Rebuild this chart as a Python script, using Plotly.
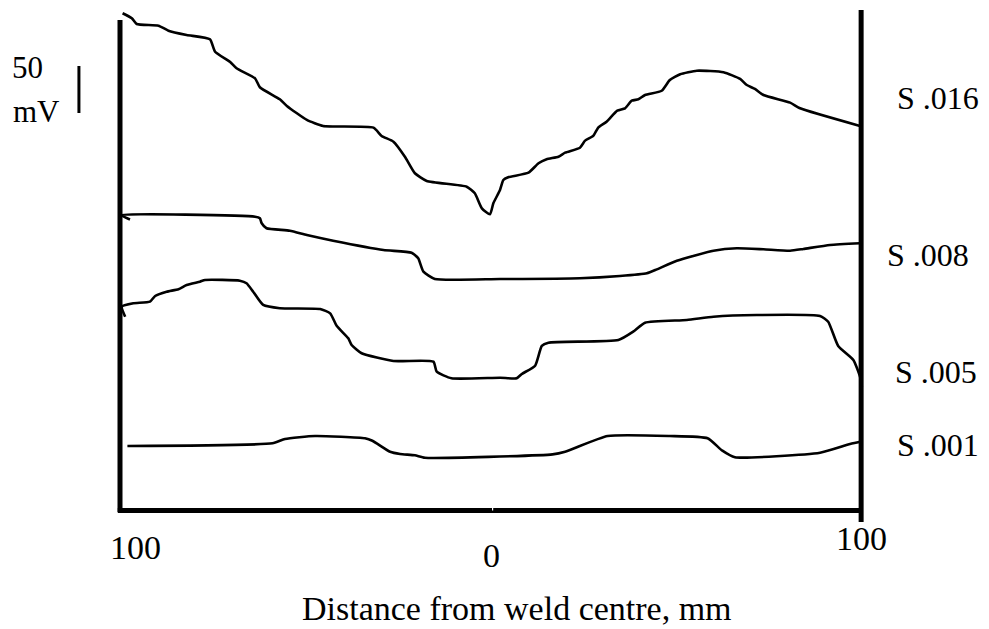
import plotly.graph_objects as go

# Distance from weld centre (mm) and signal level (mV, offset traces)
s016_x = [-99.3, -96.8, -95.5, -89.6, -86.9, -82.0, -75.7, -74.3, -70.3, -68.5, -63.5, -62.2,
          -56.8, -54.9, -49.5, -45.1, -31.5, -29.3, -26.1, -23.0, -20.3, -17.1, -6.3, -4.1,
          -2.2, 0.0, 0.9, 2.7, 3.6, 4.9, 10.4, 13.1, 15.3, 18.5, 20.3, 24.3, 25.7, 27.9, 29.3,
          31.5, 34.4, 36.5, 38.3, 40.1, 41.9, 46.4, 48.6, 51.4, 55.9, 63.1, 67.6, 69.4, 71.6,
          73.9, 81.1, 83.8, 100.0]
s016_y = [531.6, 526.3, 520.2, 518.4, 513.1, 508.5, 503.9, 490.7, 480.1, 473.1, 462.4, 452.9,
          440.1, 433.0, 418.1, 411.7, 409.9, 401.1, 395.0, 379.0, 361.4, 353.2, 347.1, 340.1,
          324.1, 317.8, 329.5, 343.6, 354.2, 357.1, 362.0, 372.0, 376.3, 379.0, 383.3, 388.6,
          396.1, 401.1, 410.3, 416.3, 428.0, 430.5, 438.6, 440.1, 444.7, 449.2, 460.6, 466.7,
          470.5, 468.8, 461.7, 455.3, 451.1, 444.7, 436.5, 430.5, 411.7]

s008_x = [-97.3, -99.8, -63.5, -62.2, -61.7, -60.4, -54.1, -49.5, -42.4, -28.8, -21.2, -19.4,
          -18.0, -14.9, 2.7, 24.3, 35.1, 42.4, 45.1, 50.5, 60.4, 66.7, 73.9, 81.1, 84.7, 91.9,
          100.0]
s008_y = [312.2, 317.0, 315.2, 313.5, 308.2, 302.9, 300.3, 295.7, 289.7, 279.8, 276.9, 270.9,
          256.7, 248.9, 248.9, 249.7, 252.1, 255.0, 259.2, 268.4, 279.0, 281.6, 280.5, 279.0,
          280.9, 285.1, 286.9]

s005_x = [-98.6, -99.5, -96.4, -91.9, -90.5, -87.4, -84.2, -82.0, -78.4, -77.0, -67.6, -65.8,
          -64.0, -61.3, -56.8, -45.9, -43.2, -41.4, -38.3, -37.4, -34.7, -26.1, -15.3, -14.4,
          -10.4, 2.7, 7.2, 8.6, 12.2, 14.0, 15.8, 34.7, 38.7, 41.9, 53.2, 60.4, 72.1, 89.2,
          91.4, 94.1, 98.2, 100.0, 100.5]
s005_y = [208.8, 219.5, 223.1, 224.8, 230.8, 235.4, 238.0, 242.5, 246.1, 247.9, 247.1, 244.4,
          235.4, 221.3, 217.8, 217.0, 212.4, 198.9, 185.8, 178.7, 169.9, 161.7, 161.0, 150.3,
          143.3, 143.9, 143.3, 147.9, 156.7, 177.7, 181.2, 184.0, 192.9, 202.4, 205.3, 208.8,
          210.6, 209.6, 203.5, 177.7, 162.8, 145.0, 134.4]

s001_x = [-98.0, -58.8, -55.4, -47.3, -33.8, -31.8, -27.0, -24.3, -20.3, -17.6, 16.9, 20.3,
          31.8, 48.6, 58.8, 62.8, 66.2, 89.2, 97.3, 100.7]
s001_y = [71.3, 74.1, 78.7, 81.9, 79.5, 76.9, 65.2, 62.8, 61.4, 58.8, 62.4, 65.2, 81.9, 81.9,
          79.5, 66.3, 59.3, 64.1, 73.4, 76.3]

series_names = ["S .016", "S .008", "S .005", "S .001"]
label_pos = [(109.5, 441.5), (106.8, 274.5), (108.9, 150.0), (109.5, 72.3)]

tick_labels = ["100", "0", "100"]
tick_pos = [(-95.7, -36.2), (0.5, -45.7), (100.5, -26.6)]

x_title = "Distance from weld centre, mm"
scale_mv = 50

FONT = "Liberation Serif, Times New Roman, serif"

fig = go.Figure()
for xs, ys in [(s016_x, s016_y), (s008_x, s008_y), (s005_x, s005_y), (s001_x, s001_y)]:
    fig.add_trace(go.Scatter(x=xs, y=ys, mode="lines",
                             line=dict(color="black", width=2.6, shape="spline", smoothing=0.5),
                             hoverinfo="skip", showlegend=False))

shapes = [
    # left axis
    dict(type="line", x0=-100, x1=-100, y0=1, y1=524.5, line=dict(color="black", width=5)),
    # bottom axis
    dict(type="line", x0=-100.6, x1=100.6, y0=2.7, y1=2.7, line=dict(color="black", width=5)),
    # right axis
    dict(type="line", x0=100.3, x1=100.3, y0=-9.6, y1=535, line=dict(color="black", width=5)),
    # zero tick notch
    dict(type="line", x0=0.7, x1=0.7, y0=2.7, y1=5.5, line=dict(color="white", width=1.2)),
    # 50 mV scale bar
    dict(type="line", x0=-111.1, x1=-111.1, y0=425.5, y1=425.5 + scale_mv,
         line=dict(color="black", width=3)),
]
for s in shapes:
    s.update(xref="x", yref="y", layer="above")

annotations = []
for name, (lx, ly) in zip(series_names, label_pos):
    annotations.append(dict(x=lx, y=ly, text=name, xanchor="left", yanchor="middle",
                            showarrow=False, font=dict(size=32, family=FONT, color="black")))
for t, (tx, ty) in zip(tick_labels, tick_pos):
    annotations.append(dict(x=tx, y=ty, text=t, xanchor="center", yanchor="middle",
                            showarrow=False, font=dict(size=34, family=FONT, color="black")))
annotations.append(dict(x=7.3, y=-102.0, text=x_title, xanchor="center", yanchor="middle",
                        showarrow=False, font=dict(size=34, family=FONT, color="black")))
annotations.append(dict(x=-125.1, y=473.4, text=str(scale_mv), xanchor="center", yanchor="middle",
                        showarrow=False, font=dict(size=31, family=FONT, color="black")))
annotations.append(dict(x=-122.7, y=427.6, text="mV", xanchor="center", yanchor="middle",
                        showarrow=False, font=dict(size=31, family=FONT, color="black")))

# the page body adds an 8 px offset, so the figure is 981x621 and its ranges start 8 px in
fig.update_layout(
    width=981, height=621, autosize=False,
    margin=dict(l=0, r=0, t=0, b=0),
    paper_bgcolor="white", plot_bgcolor="white",
    xaxis=dict(range=[-130.27, 134.86], visible=False, fixedrange=True),
    yaxis=dict(range=[-123.4, 537.2], visible=False, fixedrange=True),
    shapes=shapes, annotations=annotations,
    font=dict(family=FONT, color="black"),
)

fig.write_html("out.html", config={"displayModeBar": False})
